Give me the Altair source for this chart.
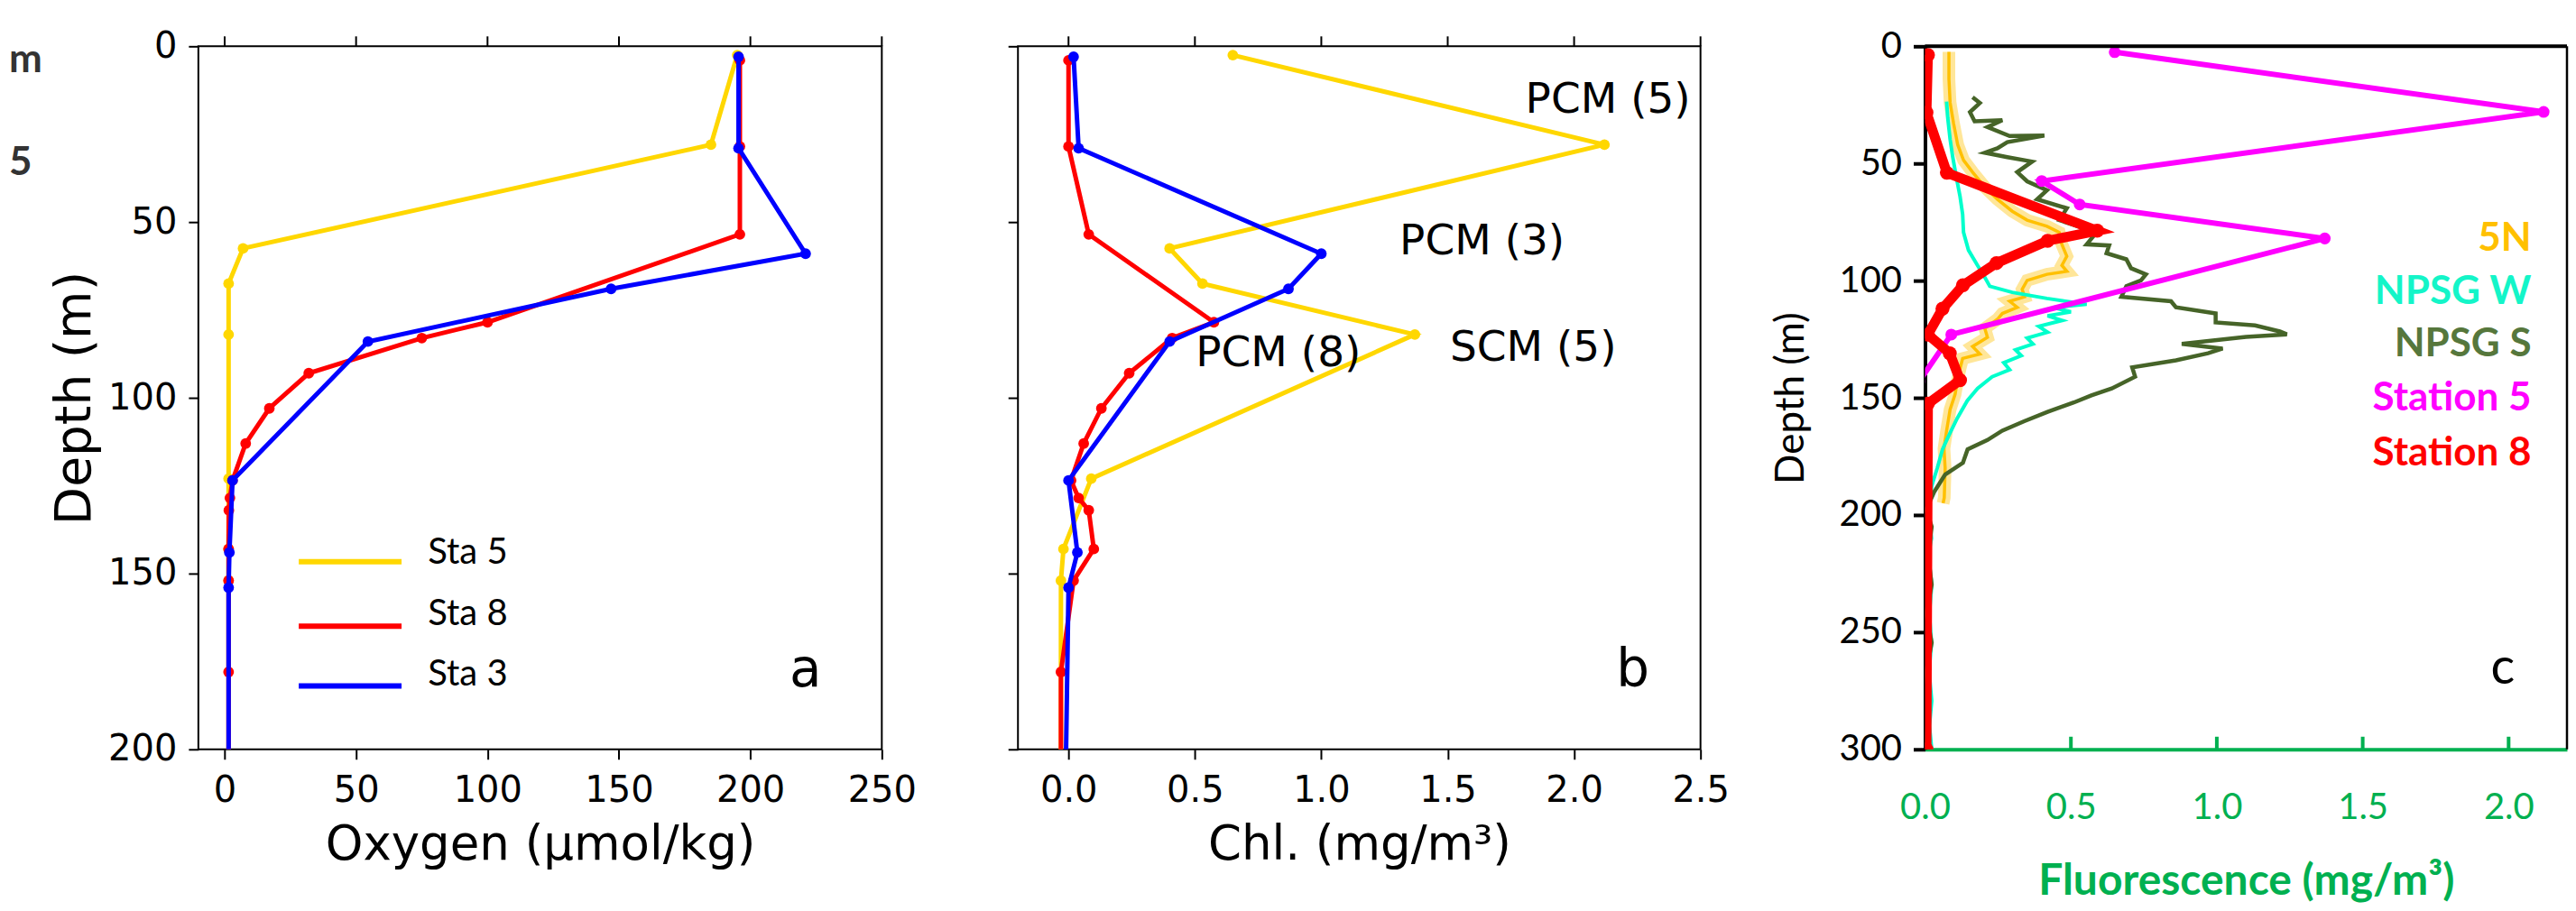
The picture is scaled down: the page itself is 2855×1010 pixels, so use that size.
import altair as alt
import pandas as pd

# ---------------- data ----------------
# Panels a & b : bottle profiles at three stations
sta_names = ["Sta 5", "Sta 8", "Sta 3"]
sta_colors = ["#FFD700", "#FF0000", "#0000FF"]

sta5_depth = [2.5, 28, 57.5, 67.5, 82, 123, 143, 152, 250]
sta5_oxygen = [195, 185, 7, 1.5, 1.5, 1.5, 1.5, 1.5, 1.5]
sta5_chl = [0.65, 2.12, 0.40, 0.53, 1.37, 0.09, -0.02, -0.03, -0.03]

sta8_depth = [4, 28.5, 53.5, 78.5, 83, 93, 103, 113, 123.5, 128.5, 132, 143, 152, 178, 250]
sta8_oxygen = [196, 196, 196, 100, 75, 32, 17, 8, 3, 2, 1.6, 1.5, 1.5, 1.5, 1.5]
sta8_chl = [0.0, 0.0, 0.08, 0.575, 0.41, 0.24, 0.13, 0.06, 0.01, 0.04, 0.08, 0.10, 0.02, -0.03, -0.03]

sta3_depth = [3, 29, 59, 69, 84, 123.5, 144, 154, 250]
sta3_oxygen = [195.5, 195.5, 221, 147, 54.5, 3, 1.8, 1.5, 1.5]
sta3_chl = [0.02, 0.04, 1.0, 0.87, 0.40, 0.0, 0.035, 0.0, -0.02]

chl_labels = ["PCM (5)", "PCM (3)", "SCM (5)", "PCM (8)"]

# Panel c : fluorescence profiles
fl_names = ["5N", "NPSG W", "NPSG S", "Station 5", "Station 8"]
fl_line_colors = ["#FFC000", "#00FFCC", "#466428", "#FF00FF", "#FF0000"]
fl_text_colors = ["#FFC000", "#14F5C8", "#56773C", "#FF00FF", "#FF0000"]

n5_depth = [2.4, 14, 24, 33, 42, 48.6, 53.7, 60.1, 65.3, 70.4, 74.2, 76.8, 79.4, 84.5, 89.6,
            93.5, 96, 97.3, 99.9, 103.7, 106.9, 108.8, 111.4, 114, 116.5, 120.4, 124.2, 128.1,
            131.3, 133.2, 137.1, 142.2, 148.6, 155, 164, 171.7, 180, 192.6, 195]
n5_fluo = [0.082, 0.082, 0.086, 0.098, 0.112, 0.132, 0.163, 0.205, 0.248, 0.299, 0.350, 0.418,
           0.460, 0.469, 0.486, 0.469, 0.486, 0.418, 0.350, 0.333, 0.341, 0.290, 0.316, 0.265,
           0.248, 0.205, 0.214, 0.163, 0.188, 0.129, 0.121, 0.112, 0.103, 0.086, 0.074, 0.065,
           0.069, 0.066, 0.062]

npw_depth = [23.6, 30.6, 39.6, 47.3, 56.3, 64, 71.7, 79.4, 87, 93.5, 98.6, 102.4, 105, 107.6,
             110.1, 111.5, 113.3, 115, 117, 119.5, 122, 124.5, 127, 129.5, 132, 135, 138, 141,
             146, 151.2, 158.8, 166.5, 172, 180, 187.6, 197.6, 210, 217, 229.7, 242, 254.5,
             267, 279.3, 290, 300]
npw_fluo = [0.074, 0.078, 0.086, 0.095, 0.108, 0.120, 0.129, 0.132, 0.149, 0.180, 0.205, 0.222,
            0.299, 0.418, 0.554, 0.44, 0.50, 0.42, 0.47, 0.39, 0.42, 0.35, 0.37, 0.31, 0.33,
            0.27, 0.29, 0.23, 0.18, 0.145, 0.11, 0.08, 0.06, 0.042, 0.023, 0.014, 0.022, 0.012,
            0.023, 0.015, 0.022, 0.014, 0.023, 0.015, 0.023]

nps_depth = [21.7, 24.2, 28.1, 32, 31.5, 34.5, 38.3, 38.1, 40.9, 43.5, 45.4, 47.3, 49.2, 53.7,
             57.6, 61.4, 65.3, 69.1, 74.2, 79.4, 84.5, 85, 88.3, 90.9, 94.7, 97.3, 99.9, 102.4,
             106.9, 108.8, 111.4, 114, 117.8, 119.1, 121.7, 122.9, 124, 127, 129, 131, 134, 137,
             141, 146, 149, 152, 156, 160, 164, 168, 172, 177.7, 182.7, 190, 197.6, 205, 217,
             229.7, 242, 254.5, 267, 279, 299]
nps_fluo = [0.163, 0.188, 0.154, 0.170, 0.265, 0.214, 0.290, 0.409, 0.282, 0.248, 0.205, 0.282,
            0.367, 0.316, 0.350, 0.418, 0.384, 0.486, 0.460, 0.588, 0.554, 0.631, 0.622, 0.690,
            0.706, 0.757, 0.740, 0.690, 0.673, 0.843, 0.860, 0.996, 0.996, 1.131, 1.216, 1.24,
            1.10, 0.88, 1.02, 0.97, 0.86, 0.71, 0.72, 0.64, 0.57, 0.51, 0.42, 0.34, 0.265, 0.214,
            0.146, 0.13, 0.069, 0.032, 0.004, 0.023, 0.010, 0.023, 0.004, 0.023, 0.004, 0.014,
            0.004]

st5_depth = sta5_depth
st5_fluo = sta5_chl

st8_depth = [3.7, 28.3, 54, 78.7, 83, 92.5, 102, 112, 123, 131, 142.5, 152.5, 300]
st8_fluo = [0.01, 0.005, 0.075, 0.59, 0.42, 0.245, 0.13, 0.06, 0.01, 0.085, 0.12, 0.01, 0.005]

# tick values
oxy_ticks = [0, 50, 100, 150, 200, 250]
chl_ticks = [0.0, 0.5, 1.0, 1.5, 2.0, 2.5]
depth_ticks_ab = [0, 50, 100, 150, 200]
fl_ticks = [0.0, 0.5, 1.0, 1.5, 2.0]
depth_ticks_c = [0, 50, 100, 150, 200, 250, 300]

# ---------------- layout / style ----------------
H = 780
WA, WB, WC = 758, 757, 712
GAP1, GAP2 = 151, 249
FAB = "DejaVu Sans"
FC = "Lato"
GREEN = "#00B050"


def prof(depths, vals, field):
    return pd.DataFrame({"depth": depths, field: vals, "i": list(range(len(depths)))})


one = pd.DataFrame({"k": [0]})


def panel_ab(series, field, xdomain, xticks, xfmt, xtitle, ylabels):
    xs = alt.Scale(domain=xdomain, nice=False, zero=False)
    ys = alt.Scale(domain=[0, 200], reverse=True, nice=False, zero=False)
    xaxis = alt.Axis(values=xticks, format=xfmt, title=xtitle, domain=False, grid=False,
                     ticks=True, tickSize=11, tickWidth=2, tickColor="black",
                     labelFont=FAB, labelFontSize=40, labelColor="black", labelPadding=15,
                     labelFlush=False, labelOverlap=False,
                     titleFont=FAB, titleFontSize=53, titleFontWeight="normal",
                     titleColor="black", titlePadding=14)
    if ylabels:
        yaxis = alt.Axis(values=depth_ticks_ab, format="d", title="Depth (m)", domain=False,
                         grid=False, tickSize=11, tickWidth=2, tickColor="black",
                         labelFont=FAB, labelFontSize=40, labelColor="black", labelPadding=13,
                         labelOverlap=False, labelFlush=False,
                         titleFont=FAB, titleFontSize=55, titleFontWeight="normal",
                         titleColor="black", titlePadding=8)
    else:
        yaxis = alt.Axis(values=depth_ticks_ab, labels=False, title=None, domain=False,
                         grid=False, tickSize=11, tickWidth=2, tickColor="black")

    def X(f):
        return alt.X(f, scale=xs, axis=xaxis)

    def Y(f):
        return alt.Y(f, scale=ys, axis=yaxis)

    layers = []
    for name, col, df in series:
        layers.append(
            alt.Chart(df).mark_line(clip=True, strokeWidth=5, color=col).encode(
                x=X(f"{field}:Q"), y=Y("depth:Q"), order=alt.Order("i:Q")))
        layers.append(
            alt.Chart(df).mark_circle(clip=True, size=140, opacity=1, color=col).encode(
                x=X(f"{field}:Q"), y=Y("depth:Q")))
    top = alt.Chart(pd.DataFrame({"t": xticks})).mark_rule(color="black", strokeWidth=2).encode(
        x=X("t:Q"), y=alt.value(0), y2=alt.value(-11))
    layers.append(top)
    return layers, X, Y


# ---- panel a ----
series_a = [(n, c, prof(d, v, "oxy")) for n, c, d, v in zip(
    sta_names, sta_colors, [sta5_depth, sta8_depth, sta3_depth],
    [sta5_oxygen, sta8_oxygen, sta3_oxygen])]
layers_a, XA, YA = panel_ab(series_a, "oxy", [-10, 250], oxy_ticks, "d",
                            "Oxygen (µmol/kg)", True)

leg = pd.DataFrame({"name": sta_names, "col": sta_colors})
leg["x0"] = 28.2
leg["x1"] = 67.3
leg["y"] = [146.6, 165, 182]
leg["tx"] = 77.3
leg["ty"] = [144, 161.5, 178.7]
layers_a.append(alt.Chart(leg).mark_rule(strokeWidth=6).encode(
    x=XA("x0:Q"), x2="x1:Q", y=YA("y:Q"), color=alt.Color("col:N", scale=None)))
layers_a.append(alt.Chart(leg).mark_text(align="left", baseline="middle", font=FC,
                                         fontSize=40, color="black").encode(
    x=XA("tx:Q"), y=YA("ty:Q"), text="name:N"))
layers_a.append(alt.Chart(pd.DataFrame({"t": ["a"], "x": [221], "y": [182]})).mark_text(
    align="center", baseline="alphabetic", font=FAB, fontSize=58, color="black").encode(
    x=XA("x:Q"), y=YA("y:Q"), text="t:N"))
# cut-off remnants of a neighbouring figure at the far left
layers_a.append(alt.Chart(one).mark_text(align="left", baseline="middle", font=FC, fontSize=44,
                                         fontWeight="bold", color="#333333").encode(
    x=alt.value(-210), y=alt.value(15.5), text=alt.value("m")))
layers_a.append(alt.Chart(one).mark_text(align="left", baseline="middle", font=FC, fontSize=44,
                                         fontWeight="bold", color="#333333").encode(
    x=alt.value(-210), y=alt.value(129.5), text=alt.value("5")))
layers_a.append(alt.Chart(one).mark_rule(color="white", strokeWidth=1).encode(
    x=alt.value(-210), y=alt.value(-41), y2=alt.value(-40)))

panel_a = alt.layer(*layers_a).properties(
    width=WA, height=H, view=alt.ViewBackground(stroke="black", strokeWidth=2))

# ---- panel b ----
series_b = [(n, c, prof(d, v, "chl")) for n, c, d, v in zip(
    sta_names, sta_colors, [sta5_depth, sta8_depth, sta3_depth],
    [sta5_chl, sta8_chl, sta3_chl])]
layers_b, XB, YB = panel_ab(series_b, "chl", [-0.2, 2.5], chl_ticks, ".1f",
                            "Chl. (mg/m³)", False)
ann = pd.DataFrame({"t": chl_labels, "x": [2.134, 1.636, 1.838, 0.83], "y": [15.4, 55.5, 85.8, 87.5]})
layers_b.append(alt.Chart(ann).mark_text(align="center", baseline="middle", font=FAB,
                                         fontSize=47, color="black").encode(
    x=XB("x:Q"), y=YB("y:Q"), text="t:N"))
layers_b.append(alt.Chart(pd.DataFrame({"t": ["b"], "x": [2.232], "y": [182]})).mark_text(
    align="center", baseline="alphabetic", font=FAB, fontSize=58, color="black").encode(
    x=XB("x:Q"), y=YB("y:Q"), text="t:N"))
panel_b = alt.layer(*layers_b).properties(
    width=WB, height=H, view=alt.ViewBackground(stroke="black", strokeWidth=2))

# ---- panel c ----
fxs = alt.Scale(domain=[0, 2.2], nice=False, zero=False)
fys = alt.Scale(domain=[0, 300], reverse=True, nice=False, zero=False)
fx_axis = alt.Axis(values=fl_ticks, format=".1f", title="Fluorescence (mg/m³)", domain=True,
                   domainColor=GREEN, domainWidth=4, ticks=False, tickSize=0, grid=False,
                   labelFont=FC, labelFontSize=40, labelColor=GREEN, labelPadding=45,
                   labelFlush=False, labelOverlap=False,
                   titleFont=FC, titleFontSize=48, titleFontWeight="bold", titleColor=GREEN,
                   titlePadding=38)
fy_axis = alt.Axis(values=depth_ticks_c, format="d", title="Depth (m)", domain=True,
                   domainColor="black", domainWidth=4, tickColor="black", tickWidth=4,
                   tickSize=13, grid=False, labelFont=FC, labelFontSize=40, labelColor="black",
                   labelPadding=13, labelOverlap=False, labelFlush=False,
                   titleFont=FC, titleFontSize=44, titleFontWeight="normal",
                   titleColor="black", titlePadding=30)


def XC(f):
    return alt.X(f, scale=fxs, axis=fx_axis)


def YC(f):
    return alt.Y(f, scale=fys, axis=fy_axis)


d5n = prof(n5_depth, n5_fluo, "fl")
dnw = prof(npw_depth, npw_fluo, "fl")
dns = prof(nps_depth, nps_fluo, "fl")
ds5 = prof(st5_depth, st5_fluo, "fl")
ds8 = prof(st8_depth, st8_fluo, "fl")


def fl_line(df, col, w, op=1.0):
    return alt.Chart(df).mark_line(clip=True, strokeWidth=w, color=col, opacity=op).encode(
        x=XC("fl:Q"), y=YC("depth:Q"), order=alt.Order("i:Q"))


def fl_pts(df, col, s):
    return alt.Chart(df).mark_circle(clip=True, size=s, opacity=1, color=col).encode(
        x=XC("fl:Q"), y=YC("depth:Q"))


layers_c = [
    fl_line(d5n, "#FFC000", 14, 0.4),
    fl_line(d5n, fl_line_colors[0], 3.5),
    fl_line(dnw, fl_line_colors[1], 4),
    fl_line(dns, fl_line_colors[2], 4.5),
    fl_line(ds5, fl_line_colors[3], 6),
    fl_pts(ds5, fl_line_colors[3], 170),
    fl_line(ds8, fl_line_colors[4], 11),
    fl_pts(ds8, fl_line_colors[4], 240),
]
fleg = pd.DataFrame({"name": fl_names, "col": fl_text_colors})
fleg["x"] = 2.078
fleg["y"] = [82.3, 104.8, 127.3, 150.4, 173.8]
layers_c.append(alt.Chart(fleg).mark_text(align="right", baseline="middle", font=FC,
                                          fontSize=44, fontWeight="bold").encode(
    x=XC("x:Q"), y=YC("y:Q"), text="name:N", color=alt.Color("col:N", scale=None)))
layers_c.append(alt.Chart(pd.DataFrame({"t": ["c"], "x": [1.98], "y": [272]})).mark_text(
    align="center", baseline="alphabetic", font=FC, fontSize=56, color="black").encode(
    x=XC("x:Q"), y=YC("y:Q"), text="t:N"))
# inward green ticks on the bottom axis
layers_c.append(alt.Chart(pd.DataFrame({"t": fl_ticks[1:]})).mark_rule(
    color=GREEN, strokeWidth=4).encode(x=XC("t:Q"), y=alt.value(H), y2=alt.value(H - 14)))
# top and right frame lines
layers_c.append(alt.Chart(one).mark_rule(color="black", strokeWidth=4).encode(
    x=alt.value(0), x2=alt.value(WC), y=alt.value(0)))
layers_c.append(alt.Chart(one).mark_rule(color="black", strokeWidth=2.5).encode(
    x=alt.value(WC), y=alt.value(0), y2=alt.value(H)))

panel_c = alt.layer(*layers_c).properties(width=WC, height=H)


def spacer(w):
    return alt.Chart(one).mark_point(opacity=0).encode(
        x=alt.value(0), y=alt.value(0)).properties(width=w, height=H)


chart = alt.hconcat(panel_a, spacer(GAP1), panel_b, spacer(GAP2), panel_c,
                    spacing=0, bounds="flush").properties(padding=0).configure_view(stroke=None)

chart.save("out.html", embed_options={"renderer": "svg", "actions": False})
